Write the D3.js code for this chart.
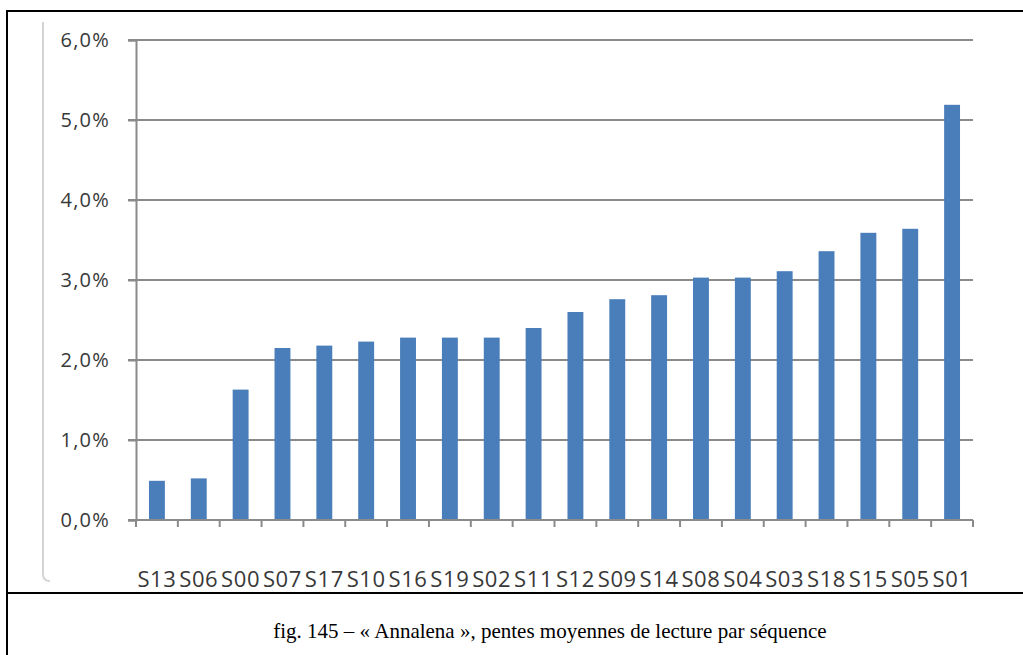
<!DOCTYPE html>
<html>
<head>
<meta charset="utf-8">
<script src="https://cdn.jsdelivr.net/npm/d3@7"></script>
<style>
  html, body { margin: 0; padding: 0; background: #fff; }
  svg { display: block; }
</style>
</head>
<body>
<svg id="chart" width="1023" height="655"></svg>
<script>
// Séquences, triées par pente moyenne croissante
const sequences = ["S13","S06","S00","S07","S17","S10","S16","S19","S02","S11",
                   "S12","S09","S14","S08","S04","S03","S18","S15","S05","S01"];
// Pente moyenne de lecture (fraction)
const pentes = [0.0049,0.0052,0.0163,0.0215,0.0218,0.0223,0.0228,0.0228,0.0228,0.0240,
                0.0260,0.0276,0.0281,0.0303,0.0303,0.0311,0.0336,0.0359,0.0364,0.0519];
const yTicks = [0, 0.01, 0.02, 0.03, 0.04, 0.05, 0.06];
const legende = "fig. 145 – « Annalena », pentes moyennes de lecture par séquence";

const svg = d3.select("#chart");
const W = 1023, H = 655;

// Cadre de la figure
const frame = svg.append("g");
frame.append("line").attr("x1", 7).attr("x2", W).attr("y1", 11).attr("y2", 11)
  .attr("stroke", "#000").attr("stroke-width", 2);
frame.append("line").attr("x1", 7).attr("x2", 7).attr("y1", 10).attr("y2", H)
  .attr("stroke", "#000").attr("stroke-width", 2);
frame.append("line").attr("x1", 7).attr("x2", W).attr("y1", 593).attr("y2", 593)
  .attr("stroke", "#000").attr("stroke-width", 2);

// Zone du graphique (bord clair)
svg.append("path")
  .attr("d", "M43,22 L43,574 Q43,581 50,581")
  .attr("fill", "none").attr("stroke", "#d4d4d4").attr("stroke-width", 2);

const plot = { left: 136, right: 973, top: 40, bottom: 520 };

const x = d3.scaleBand()
  .domain(sequences)
  .range([plot.left, plot.right])
  .paddingInner(0.62)
  .paddingOuter(0.31);

const y = d3.scaleLinear()
  .domain([0, 0.06])
  .range([plot.bottom, plot.top]);

const fr = d3.formatLocale({ decimal: ",", thousands: " ", grouping: [3], currency: ["", " €"] });
const pct = fr.format(".1%");

const axisColor = "#8a8a8a";
const textColor = "#383838";

// Quadrillage horizontal
svg.append("g").selectAll("line")
  .data(yTicks.filter(d => d > 0))
  .join("line")
  .attr("x1", plot.left - 8).attr("x2", plot.right)
  .attr("y1", d => y(d)).attr("y2", d => y(d))
  .attr("stroke", axisColor).attr("stroke-width", 2);

// Barres
svg.append("g").selectAll("rect")
  .data(sequences.map((s, i) => ({ s, v: pentes[i] })))
  .join("rect")
  .attr("x", d => x(d.s))
  .attr("width", x.bandwidth())
  .attr("y", d => y(d.v))
  .attr("height", d => y(0) - y(d.v))
  .attr("fill", "#4a7ebb");

// Axe vertical
const yAxis = svg.append("g")
  .attr("transform", `translate(${plot.left},0)`)
  .call(d3.axisLeft(y).tickValues(yTicks).tickFormat(pct).tickSize(8).tickPadding(18));
yAxis.select(".domain").attr("stroke", axisColor).attr("stroke-width", 2);
yAxis.selectAll(".tick line").attr("stroke", axisColor).attr("stroke-width", 2);
yAxis.selectAll(".tick text")
  .attr("fill", textColor)
  .style("font-family", "'Open Sans', sans-serif")
  .style("font-size", "20px")
  .style("font-weight", "500")
  .style("letter-spacing", "1.2px");

// Axe horizontal : graduations aux limites des catégories
const step = x.step();
const bounds = d3.range(sequences.length + 1).map(i => plot.left + i * step);
const xAxisG = svg.append("g");
xAxisG.append("line")
  .attr("x1", plot.left - 8).attr("x2", plot.right)
  .attr("y1", plot.bottom).attr("y2", plot.bottom)
  .attr("stroke", axisColor).attr("stroke-width", 2);
xAxisG.selectAll("line.tk")
  .data(bounds)
  .join("line")
  .attr("class", "tk")
  .attr("x1", d => d).attr("x2", d => d)
  .attr("y1", plot.bottom).attr("y2", plot.bottom + 7)
  .attr("stroke", axisColor).attr("stroke-width", 2);

const xAxis = svg.append("g")
  .attr("transform", `translate(0,${plot.bottom})`)
  .call(d3.axisBottom(x).tickSize(0).tickPadding(51));
xAxis.select(".domain").remove();
xAxis.selectAll(".tick text")
  .attr("fill", textColor)
  .style("font-family", "'Open Sans', sans-serif")
  .style("font-size", "22px")
  .style("font-weight", "500")
  .style("letter-spacing", "0.6px");

// Légende de la figure
svg.append("text")
  .attr("x", 550).attr("y", 638)
  .attr("text-anchor", "middle")
  .style("font-family", "'Liberation Serif', 'Times New Roman', serif")
  .style("font-size", "21px")
  .attr("fill", "#000")
  .text(legende);
</script>
</body>
</html>
